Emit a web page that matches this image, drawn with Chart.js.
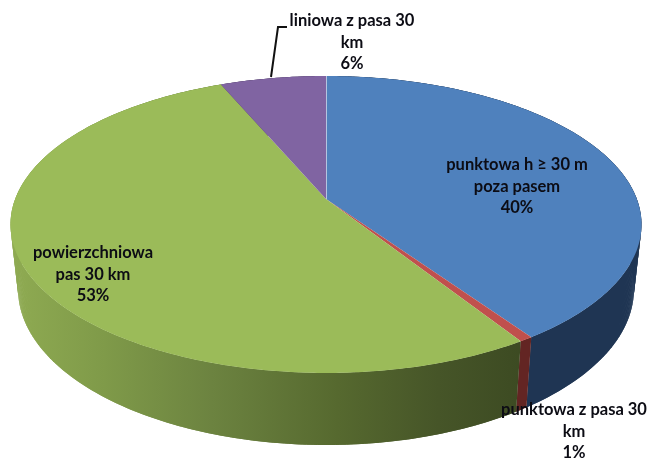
<!DOCTYPE html>
<html lang="pl">
<head>
<meta charset="utf-8">
<style>html,body{margin:0;padding:0;background:#fff}canvas{display:block}</style>
<script src="https://cdn.jsdelivr.net/npm/chart.js@4/dist/chart.umd.js"></script>
</head>
<body>
<canvas id="c" width="650" height="459"></canvas>
<script>
const categories = ['punktowa h ≥ 30 m poza pasem', 'punktowa z pasa 30 km', 'powierzchniowa pas 30 km', 'liniowa z pasa 30 km'];
const shares = [40.4, 0.6, 52.6, 6.4];
const topColors = ['#4f81bd', '#c0504d', '#9bbb59', '#8064a2'];
const labelLines = [
  ['punktowa h ≥ 30 m', 'poza pasem', '40%'],
  ['punktowa z pasa 30', 'km', '1%'],
  ['powierzchniowa', 'pas 30 km', '53%'],
  ['liniowa z pasa 30', 'km', '6%']
];
const labelCentres = [[517, 165], [574, 410], [93, 253], [352, 21]];

const K = 0.1717;
const TOP = {x0: 326, y0: 199, A: 310.8, B: 144.1};
const BASE = {x0: 326, y0: 262.2, A: 303.4, B: 151.4};

function project(rim, a) {
  // chart.js angles: -PI/2 is 12 o'clock
  const u = Math.cos(a), v = Math.sin(a), w = 1 - K * v;
  return [rim.x0 + rim.A * u / w, rim.y0 + rim.B * v / w];
}
function rimPoints(rim, a0, a1) {
  const n = Math.max(2, Math.ceil(Math.abs(a1 - a0) / 0.01));
  const pts = [];
  for (let i = 0; i <= n; i++) pts.push(project(rim, a0 + (a1 - a0) * i / n));
  return pts;
}
function fillPoly(ctx, pts, fill) {
  ctx.beginPath();
  pts.forEach((p, i) => i ? ctx.lineTo(p[0], p[1]) : ctx.moveTo(p[0], p[1]));
  ctx.closePath();
  ctx.fillStyle = fill;
  ctx.fill();
}
function sideFill(ctx, i) {
  const g = ctx.createLinearGradient(10, 0, 640, 0);
  const stops = [
    [['#1f3553', 0], ['#1f3553', 1]],
    [['#632523', 0], ['#632523', 1]],
    [['#8fab52', 0], ['#7f9a49', 0.15], ['#6c8340', 0.32], ['#56692f', 0.52], ['#465528', 0.68], ['#3c4a22', 0.82], ['#3c4a22', 1]],
    [['#4c3b63', 0], ['#4c3b63', 1]]
  ][i];
  stops.forEach(s => g.addColorStop(s[1], s[0]));
  return g;
}

const pie3d = {
  id: 'pie3d',
  beforeDatasetsDraw(chart) {
    const ctx = chart.ctx;
    const arcs = chart.getDatasetMeta(0).data;
    ctx.save();
    arcs.forEach((arc, i) => {
      const p = rimPoints(TOP, arc.startAngle, arc.endAngle);
      const q = rimPoints(BASE, arc.startAngle, arc.endAngle);
      const fill = sideFill(ctx, i);
      // quads between the rims, overlapping by a step so no seams show
      for (let j = 0; j < p.length - 1; j++) {
        const e = Math.min(j + 2, p.length - 1);
        fillPoly(ctx, [p[j], p[e], q[e], q[j]], fill);
      }
    });
    arcs.forEach((arc, i) => {
      const p = rimPoints(TOP, arc.startAngle, arc.endAngle);
      p.unshift([TOP.x0, TOP.y0]);
      fillPoly(ctx, p, topColors[i]);
    });
    // pale seam at 12 o'clock
    const s = project(TOP, arcs[0].startAngle);
    ctx.strokeStyle = 'rgba(225,225,240,0.7)';
    ctx.lineWidth = 1;
    ctx.beginPath();
    ctx.moveTo(TOP.x0 + 0.5, TOP.y0);
    ctx.lineTo(s[0] + 0.5, s[1]);
    ctx.stroke();
    // leader line
    ctx.strokeStyle = '#111';
    ctx.lineWidth = 2;
    ctx.beginPath();
    ctx.moveTo(287, 27);
    ctx.lineTo(278, 27);
    ctx.lineTo(271, 77);
    ctx.stroke();
    // labels
    ctx.fillStyle = '#0c0c14';
    ctx.font = 'bold 16.5px Lato, "Open Sans", sans-serif';
    ctx.textAlign = 'center';
    ctx.textBaseline = 'middle';
    labelLines.forEach((lines, i) => {
      lines.forEach((t, j) => ctx.fillText(t, labelCentres[i][0], labelCentres[i][1] + j * 21.5));
    });
    ctx.restore();
    return false;
  }
};

new Chart(document.getElementById('c'), {
  type: 'pie',
  data: {labels: categories, datasets: [{data: shares, backgroundColor: topColors, borderWidth: 0}]},
  options: {
    responsive: false,
    animation: false,
    plugins: {legend: {display: false}, tooltip: {enabled: false}}
  },
  plugins: [pie3d]
});
</script>
</body>
</html>
